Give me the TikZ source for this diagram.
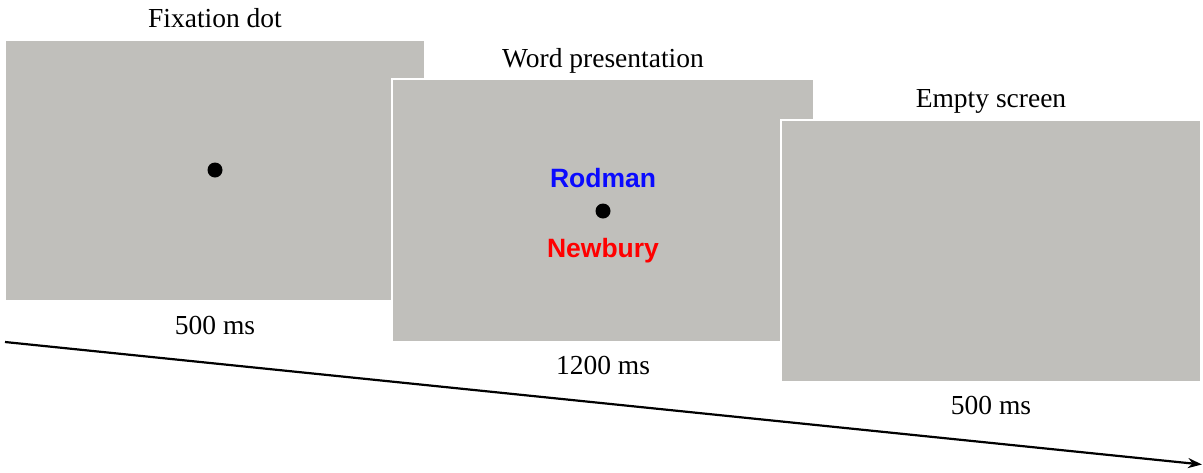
\documentclass[tikz,border=0pt]{standalone}
\usepackage{fontspec}
\setmainfont{Liberation Serif}
\newfontfamily\arialbf{Liberation Sans}[BoldFont={* Bold}]
\usetikzlibrary{arrows.meta}
\definecolor{screen}{RGB}{192,191,187}
\definecolor{wblue}{RGB}{10,10,255}
\definecolor{wred}{RGB}{255,0,0}
\tikzset{
  panel/.style={fill=screen, draw=white, line width=1.5pt},
  caption/.style={anchor=base, inner sep=0pt, font=\fontsize{27.5}{32}\selectfont},
  word/.style={anchor=base, inner sep=0pt, font=\fontsize{26.5}{30}\selectfont\arialbf\bfseries},
  fixdot/.style={circle, fill=black, inner sep=0pt, minimum size=15pt},
  timeline/.style={line width=2.2pt, -{Stealth[length=14pt,width=10pt]}}
}
\begin{document}
\begin{tikzpicture}[x=1pt,y=-1pt]
\useasboundingbox (0,0) rectangle (1203,472);
% panels
\path[panel] (5,40) rectangle (425,301);
\path[panel] (392,79) rectangle (814,342);
\path[panel] (781,120) rectangle (1201,382);
% titles
\node[caption] (t1) at (215,27) {Fixation dot};
\node[caption] (t2) at (603,67) {Word presentation};
\node[caption] (t3) at (991,107) {Empty screen};
% durations
\node[caption] (d1) at (215,334) {500 ms};
\node[caption] (d2) at (603,374) {1200 ms};
\node[caption] (d3) at (991,414) {500 ms};
% dots and words
\node[fixdot] (dot1) at (215,170) {};
\node[fixdot] (dot2) at (603,211) {};
\node[word, text=wblue] (w1) at (603,187) {Rodman};
\node[word, text=wred] (w2) at (603,257) {Newbury};
% timeline
\coordinate (a0) at (5,342);
\coordinate (a1) at (1202,464.5);
\draw[timeline] (a0) -- (a1);
\end{tikzpicture}
\end{document}
